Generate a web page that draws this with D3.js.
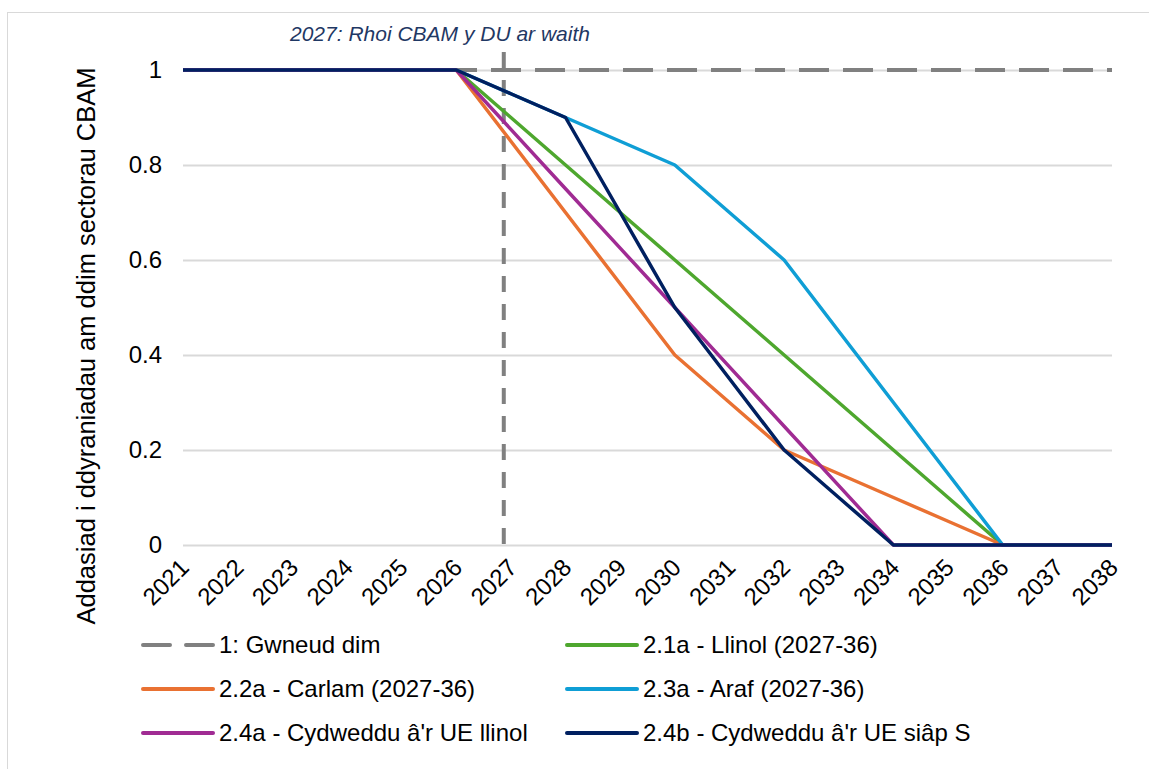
<!DOCTYPE html>
<html>
<head>
<meta charset="utf-8">
<script src="https://cdn.jsdelivr.net/npm/d3@7"></script>
<style>
  body { margin: 0; background: #fff; }
  svg { font-family: "Liberation Sans", Arial, sans-serif; }
</style>
</head>
<body>
<svg id="chart" width="1149" height="769"></svg>
<script>
// Years on the category axis
const years = [2021, 2022, 2023, 2024, 2025, 2026, 2027, 2028, 2029, 2030,
               2031, 2032, 2033, 2034, 2035, 2036, 2037, 2038];

// Series values, one per year
const gwneudDim   = [1, 1, 1, 1, 1, 1, 1, 1, 1, 1, 1, 1, 1, 1, 1, 1, 1, 1];
const llinol      = [1, 1, 1, 1, 1, 1, 0.9, 0.8, 0.7, 0.6, 0.5, 0.4, 0.3, 0.2, 0.1, 0, 0, 0];
const carlam      = [1, 1, 1, 1, 1, 1, 0.85, 0.7, 0.55, 0.4, 0.3, 0.2, 0.15, 0.1, 0.05, 0, 0, 0];
const araf        = [1, 1, 1, 1, 1, 1, 0.95, 0.9, 0.85, 0.8, 0.7, 0.6, 0.45, 0.3, 0.15, 0, 0, 0];
const cydLlinol   = [1, 1, 1, 1, 1, 1, 0.875, 0.75, 0.625, 0.5, 0.375, 0.25, 0.125, 0, 0, 0, 0, 0];
const cydSiapS    = [1, 1, 1, 1, 1, 1, 0.95, 0.9, 0.7, 0.5, 0.35, 0.2, 0.1, 0, 0, 0, 0, 0];

// Labels
const seriesNames = [
  "1: Gwneud dim",
  "2.1a - Llinol (2027-36)",
  "2.2a - Carlam (2027-36)",
  "2.3a - Araf (2027-36)",
  "2.4a - Cydweddu â'r UE llinol",
  "2.4b - Cydweddu â'r UE siâp S"
];
const yTicks = [0, 0.2, 0.4, 0.6, 0.8, 1];
const yTitle = "Addasiad i ddyraniadau am ddim sectorau CBAM";
const markerLabel = "2027: Rhoi CBAM y DU ar waith";
const markerYear = 2026.87;

const seriesValues = [gwneudDim, llinol, carlam, araf, cydLlinol, cydSiapS];
const colors = ["#808080", "#4EA72E", "#E97132", "#0F9ED5", "#A02B93", "#002060"];

const series = seriesNames.map((name, i) => ({
  name,
  color: colors[i],
  dashed: i === 0,
  values: years.map((yr, j) => ({ year: yr, value: seriesValues[i][j] }))
}));

const svg = d3.select('#chart');

// chart frame (right and bottom edges fall outside the picture)
svg.append('rect')
  .attr('x', 7.5).attr('y', 12.5)
  .attr('width', 1160).attr('height', 780)
  .attr('fill', '#fff')
  .attr('stroke', '#d9d9d9')
  .attr('stroke-width', 1);

const plot = { left: 183, right: 1112, top: 70, bottom: 545 };
const font = '"Liberation Sans", Arial, sans-serif';

const x = d3.scalePoint().domain(years).range([plot.left, plot.right]);
const xLin = d3.scaleLinear().domain([years[0], years[years.length - 1]]).range([plot.left, plot.right]);
const y = d3.scaleLinear().domain([0, 1]).range([plot.bottom, plot.top]);

// gridlines + y labels
const yAxis = svg.append('g')
  .attr('transform', `translate(${plot.left},0)`)
  .call(d3.axisLeft(y).tickValues(yTicks).tickFormat(d3.format('~g'))
    .tickSize(-(plot.right - plot.left)).tickPadding(21));
yAxis.select('.domain').remove();
yAxis.selectAll('.tick line').attr('stroke', '#d9d9d9').attr('stroke-width', 2);
yAxis.selectAll('.tick text')
  .attr('font-size', 24).attr('fill', '#000')
  .attr('font-family', font);

// x labels
const xAxis = svg.append('g')
  .attr('transform', `translate(0,${plot.bottom})`)
  .call(d3.axisBottom(x).tickSize(0).tickPadding(0));
xAxis.select('.domain').remove();
xAxis.selectAll('.tick text')
  .attr('font-size', 24).attr('fill', '#000')
  .attr('font-family', font)
  .attr('text-anchor', 'end')
  .attr('dy', null).attr('y', null)
  .attr('transform', 'translate(7,24) rotate(-45)');

// y axis title
svg.append('text')
  .attr('transform', `translate(95,346) rotate(-90)`)
  .attr('text-anchor', 'middle')
  .attr('font-size', 25.5)
  .attr('fill', '#000')
  .text(yTitle);

// vertical marker line
svg.append('line')
  .attr('x1', xLin(markerYear)).attr('x2', xLin(markerYear))
  .attr('y1', 52).attr('y2', y(0))
  .attr('stroke', '#808080')
  .attr('stroke-width', 4)
  .attr('stroke-dasharray', '16,12');

svg.append('text')
  .attr('x', 440).attr('y', 41)
  .attr('text-anchor', 'middle')
  .attr('font-size', 21)
  .attr('font-style', 'italic')
  .attr('fill', '#1F3864')
  .text(markerLabel);

// series lines
const line = d3.line().x(d => x(d.year)).y(d => y(d.value));

svg.append('g')
  .selectAll('path')
  .data(series)
  .join('path')
  .attr('d', d => line(d.values))
  .attr('fill', 'none')
  .attr('stroke', d => d.color)
  .attr('stroke-width', d => d.dashed ? 4 : 3.5)
  .attr('stroke-dasharray', d => d.dashed ? '30,14' : null)
  .attr('stroke-linejoin', 'round');

// legend
const legendCols = [143, 567];
const legendRows = [645, 689, 733];
const legend = svg.append('g')
  .selectAll('g')
  .data(series)
  .join('g')
  .attr('transform', (d, i) => `translate(${legendCols[i % 2]},${legendRows[Math.floor(i / 2)]})`);

legend.append('line')
  .attr('x1', 0).attr('x2', 70)
  .attr('stroke', d => d.color)
  .attr('stroke-width', 4)
  .attr('stroke-linecap', 'round')
  .attr('stroke-dasharray', d => d.dashed ? '27,16' : null);

legend.append('text')
  .attr('x', 76).attr('dy', '0.35em')
  .attr('font-size', 24)
  .attr('fill', '#000')
  .text(d => d.name);
</script>
</body>
</html>
